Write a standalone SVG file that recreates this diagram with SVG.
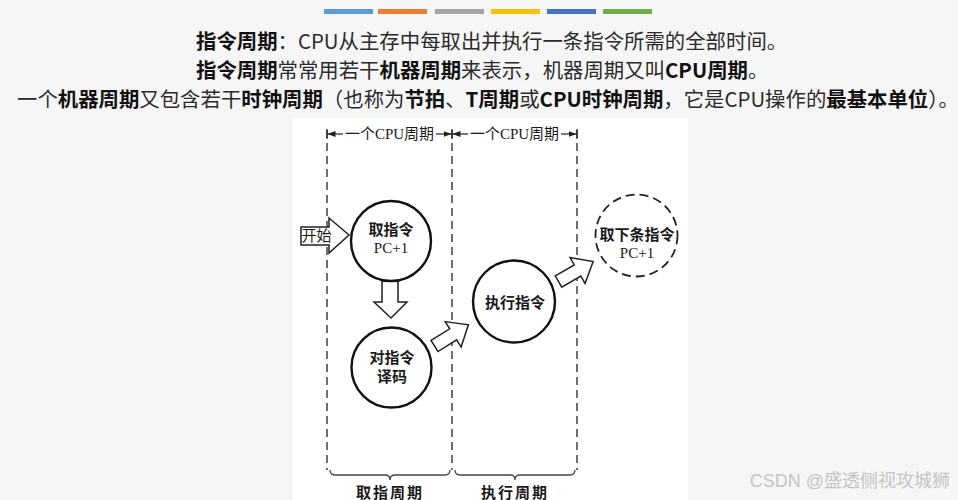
<svg xmlns="http://www.w3.org/2000/svg" width="958" height="500" viewBox="0 0 958 500">
<style>
.t{font-family:"Noto Sans CJK SC","Noto Sans",sans-serif;font-size:20.4px;fill:#2b2b2b}
.b{font-weight:bold;fill:#111}
.d{font-family:"Liberation Serif","Noto Sans CJK SC",serif;font-size:15px;fill:#1a1a1a;text-anchor:middle}
.db{font-weight:bold}
.vl{stroke:#333;stroke-width:1.4;stroke-dasharray:8 5;fill:none}
.ring{fill:#fff;stroke:#111;stroke-width:2.4}
.blk{fill:#fff;stroke:#222;stroke-width:1.5;stroke-linejoin:miter}
.dim{stroke:#222;stroke-width:1.2;fill:none}
.brace{stroke:#444;stroke-width:1.3;fill:none}
.wm{font-family:"Liberation Sans","Noto Sans CJK SC",sans-serif;font-size:18px;fill:#c4c4c4}
</style>
<defs>
<marker id="ah" viewBox="0 0 8 6" refX="8" refY="3" markerWidth="8" markerHeight="6" orient="auto" markerUnits="userSpaceOnUse">
<path d="M0,0 L8,3 L0,6 Z" fill="#222"/>
</marker>
<polygon id="barrow" points="0,-6.5 22,-6.5 22,-15 40,0 22,15 22,6.5 0,6.5"/>
</defs>
<rect x="0" y="0" width="958" height="500" fill="#f6f6f6"/>
<g id="colorbars">
<rect x="324" y="9" width="49" height="5" fill="#5b9bd5"/>
<rect x="378" y="9" width="49" height="5" fill="#ed7d31"/>
<rect x="435" y="9" width="49" height="5" fill="#a5a5a5"/>
<rect x="491" y="9" width="49" height="5" fill="#ffc000"/>
<rect x="547" y="9" width="49" height="5" fill="#4472c4"/>
<rect x="603" y="9" width="49" height="5" fill="#70ad47"/>
</g>
<g id="heading">
<text class="t" x="196" y="49"><tspan class="b">指令周期</tspan>：CPU从主存中每取出并执行一条指令所需的全部时间。</text>
<text class="t" x="196" y="78"><tspan class="b">指令周期</tspan>常常用若干<tspan class="b">机器周期</tspan>来表示，机器周期又叫<tspan class="b">CPU周期</tspan>。</text>
<text class="t" x="17" y="107">一个<tspan class="b">机器周期</tspan>又包含若干<tspan class="b">时钟周期</tspan>（也称为<tspan class="b">节拍</tspan>、<tspan class="b">T周期</tspan>或<tspan class="b">CPU时钟周期</tspan>，它是CPU操作的<tspan class="b">最基本单位</tspan>）。</text>
</g>
<rect x="293" y="118" width="395" height="382" fill="#fff"/>
<g id="guides">
<line class="vl" x1="327" y1="130" x2="327" y2="470"/>
<line class="vl" x1="452" y1="130" x2="452" y2="470"/>
<line class="vl" x1="577" y1="130" x2="577" y2="470"/>
<line class="dim" x1="327" y1="129" x2="327" y2="139"/>
<line class="dim" x1="452" y1="129" x2="452" y2="139"/>
<line class="dim" x1="577" y1="129" x2="577" y2="139"/>
<line class="dim" x1="343" y1="134" x2="327.5" y2="134" marker-end="url(#ah)"/>
<line class="dim" x1="436" y1="134" x2="451.5" y2="134" marker-end="url(#ah)"/>
<line class="dim" x1="468" y1="134" x2="452.5" y2="134" marker-end="url(#ah)"/>
<line class="dim" x1="561" y1="134" x2="576.5" y2="134" marker-end="url(#ah)"/>
<text class="d" x="389.5" y="139">一个CPU周期</text>
<text class="d" x="514.5" y="139">一个CPU周期</text>
<path class="brace" d="M330,470 q0,5 5,5 L385,475 q5,0 5,5 q0,-5 5,-5 L445,475 q5,0 5,-5"/>
<path class="brace" d="M455,470 q0,5 5,5 L510,475 q5,0 5,5 q0,-5 5,-5 L570,475 q5,0 5,-5"/>
<text class="d db" x="390" y="498" font-size="14" letter-spacing="2">取指周期</text>
<text class="d db" x="515" y="498" font-size="14" letter-spacing="2">执行周期</text>
</g>
<g id="connectors">
<polygon class="blk" points="301,227 329,227 329,218 349,235 329,253 329,245 301,245"/>
<polygon class="blk" points="382,281 398,281 398,302 407,302 391,318 374,302 382,302"/>
<use href="#barrow" class="blk" transform="translate(434.5,346) rotate(-32)"/>
<use href="#barrow" class="blk" transform="translate(558.5,281.5) rotate(-30)"/>
<text class="d" x="316.5" y="240.5" font-size="13">开始</text>
</g>
<g id="fetch">
<circle class="ring" cx="391" cy="241" r="40"/>
<text class="d db" x="391" y="235">取指令</text>
<text class="d" x="391" y="253">PC+1</text>
</g>
<g id="decode">
<circle class="ring" cx="391.5" cy="367.5" r="40"/>
<text class="d db" x="392" y="363">对指令</text>
<text class="d db" x="392" y="382">译码</text>
</g>
<g id="execute">
<circle class="ring" cx="514" cy="301.5" r="41"/>
<text class="d db" x="515" y="308">执行指令</text>
</g>
<g id="next">
<circle cx="636.5" cy="235.5" r="41" fill="#fff" stroke="#222" stroke-width="1.8" stroke-dasharray="9 5"/>
<text class="d db" x="637" y="240">取下条指令</text>
<text class="d" x="637" y="258">PC+1</text>
</g>
<text class="wm" x="950" y="487" text-anchor="end">CSDN @盛透侧视攻城狮</text>
</svg>
